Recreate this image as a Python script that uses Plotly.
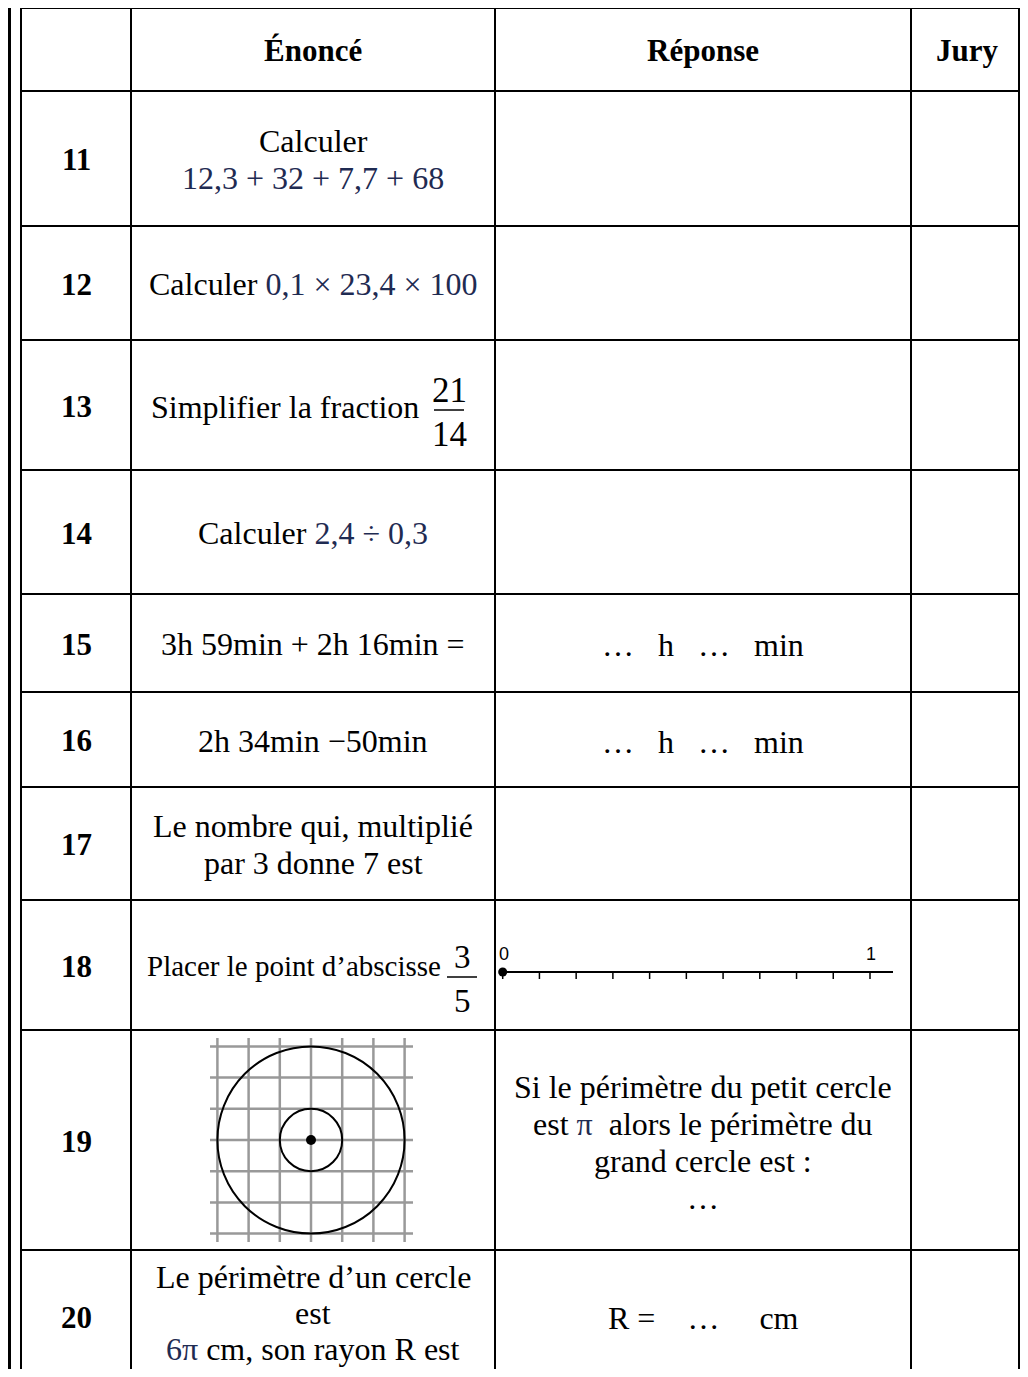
import plotly.graph_objects as go

MATH = "#1f2b52"


def m(s):
    return f"<span style='color:{MATH}'>{s}</span>"


NB = "\u00a0"

# contenu du tableau
headers = ["", "Énoncé", "Réponse", "Jury"]
numbers = ["11", "12", "13", "14", "15", "16", "17", "18", "19", "20"]
enonce_lines = [
    ["Calculer", m("12,3 + 32 + 7,7 + 68")],
    ["Calculer " + m("0,1 × 23,4 × 100")],
    ["Simplifier la fraction"],
    ["Calculer " + m("2,4 ÷ 0,3")],
    ["3h 59min + 2h 16min ="],
    ["2h 34min −50min"],
    ["Le nombre qui, multiplié", "par 3 donne 7 est"],
    ["Placer le point d’abscisse"],
    [],
    ["Le périmètre d’un cercle", "est", m("6π") + " cm, son rayon R est"],
]
reponse_lines = [
    [], [], [], [],
    ["…" + NB * 3 + "h" + NB * 3 + "…" + NB * 3 + "min"],
    ["…" + NB * 3 + "h" + NB * 3 + "…" + NB * 3 + "min"],
    [], [],
    ["Si le périmètre du petit cercle",
     "est " + m("π") + NB + " alors le périmètre du",
     "grand cercle est :", "…"],
    ["R =" + NB * 4 + "…" + NB * 5 + "cm"],
]
fractions = {2: ("21", "14"), 7: ("3", "5")}

# droite graduée (question 18)
numberline_ticks = [0, 0.1, 0.2, 0.3, 0.4, 0.5, 0.6, 0.7, 0.8, 0.9, 1.0]
numberline_labels = {0: "0", 1.0: "1"}

# quadrillage et cercles (question 19), en carreaux
grid_index = [-3, -2, -1, 0, 1, 2, 3]
circle_radii = [1, 3]

# mise en page (pixels de la page)
W, H = 1028, 1377
OFF = 8  # marge par défaut du <body>
col_edges = [21, 131, 495, 911, 1019]
row_edges = [8, 91, 226, 340, 470, 594, 692, 787, 900, 1030, 1250, 1382]
pitch = 37
serif = "Liberation Serif"

fig = go.Figure()
shapes = []
annots = []


def txt(x, y, s, size=32, bold=False, xanchor="center", family=serif, color="black"):
    if bold:
        s = f"<b>{s}</b>"
    annots.append(dict(x=x, y=y, xref="x", yref="y", text=s, showarrow=False,
                       xanchor=xanchor, yanchor="middle",
                       font=dict(family=family, size=size, color=color)))


def line(x0, y0, x1, y1, color="black", width=2, layer="above"):
    shapes.append(dict(type="line", x0=x0, y0=y0, x1=x1, y1=y1, xref="x", yref="y",
                       layer=layer, line=dict(color=color, width=width)))


# bord de page
line(OFF + 1.5, 0, OFF + 1.5, H + 10, width=3)

# grille du tableau
for x in col_edges:
    line(x, row_edges[0], x, H + 10)
for y in row_edges:
    line(col_edges[0] - 1, y, col_edges[-1] + 1, y)

cx = [(a + b) / 2 for a, b in zip(col_edges[:-1], col_edges[1:])]
cy = [(a + b) / 2 for a, b in zip(row_edges[:-1], row_edges[1:])]

for j, h in enumerate(headers):
    if h:
        txt(cx[j] + (2 if j == 3 else 0), cy[0] + 1, h, size=31, bold=True)

for i, num in enumerate(numbers):
    yc = cy[i + 1]
    txt(cx[0], yc + 1, num, size=31, bold=True)
    # dernière ligne : le bas de page coupe la cellule
    p, dy = (36, -3) if i == 9 else (pitch, 1)

    lines = enonce_lines[i]
    if i in fractions:
        top, bot = fractions[i]
        if i == 2:
            tx, fx, ty, bar, fs, ts = 421, 449, yc + 2, yc + 5, 35, 32
        else:
            tx, fx, ty, bar, fs, ts = 443, 462, yc + 1, yc + 12, 33, 29
        txt(tx, ty, lines[0], size=ts, xanchor="right")
        txt(fx, bar - 20, top, size=fs)
        line(fx - 15, bar, fx + 15, bar, width=1.5)
        txt(fx, bar + 24, bot, size=fs)
    else:
        n = len(lines)
        for k, s in enumerate(lines):
            txt(cx[1], yc + (k - (n - 1) / 2) * p + dy, s)

    rl = reponse_lines[i]
    n = len(rl)
    for k, s in enumerate(rl):
        txt(cx[2], yc + (k - (n - 1) / 2) * pitch + 2, s)

# droite graduée
nl_y = 972
nl_x0, nl_x1 = 502.7, 870.0
line(500, nl_y, 893, nl_y, width=2)
tick_x = [nl_x0 + t * (nl_x1 - nl_x0) for t in numberline_ticks]
for x in tick_x:
    line(x, nl_y, x, nl_y + 7, width=1.5)
fig.add_trace(go.Scatter(x=[tick_x[0]], y=[nl_y], mode="markers",
                         marker=dict(color="black", size=9), hoverinfo="skip"))
for t, lab in numberline_labels.items():
    txt(nl_x0 + t * (nl_x1 - nl_x0) + 1, 954, lab, size=18, family="Liberation Sans")

# quadrillage + cercles
gx0, gy0, step = 311, 1140, 31.2
for g in grid_index:
    x = gx0 + g * step
    y = gy0 + g * step
    line(x, 1038, x, 1242, color="#999999", width=2.5, layer="below")
    line(210, y, 413, y, color="#999999", width=2.5, layer="below")
for r in circle_radii:
    rr = r * step
    shapes.append(dict(type="circle", xref="x", yref="y", layer="below",
                       x0=gx0 - rr, x1=gx0 + rr, y0=gy0 - rr, y1=gy0 + rr,
                       line=dict(color="black", width=2)))
fig.add_trace(go.Scatter(x=[gx0], y=[gy0], mode="markers",
                         marker=dict(color="black", size=10), hoverinfo="skip"))

fig.update_layout(
    width=W - 2 * OFF, height=H - 2 * OFF,
    margin=dict(l=0, r=0, t=0, b=0),
    paper_bgcolor="white", plot_bgcolor="white",
    showlegend=False,
    shapes=shapes, annotations=annots,
    xaxis=dict(range=[OFF, W - OFF], visible=False, fixedrange=True),
    yaxis=dict(range=[H - OFF, OFF], visible=False, fixedrange=True),
)

fig.write_html("out.html", config={"displayModeBar": False})
